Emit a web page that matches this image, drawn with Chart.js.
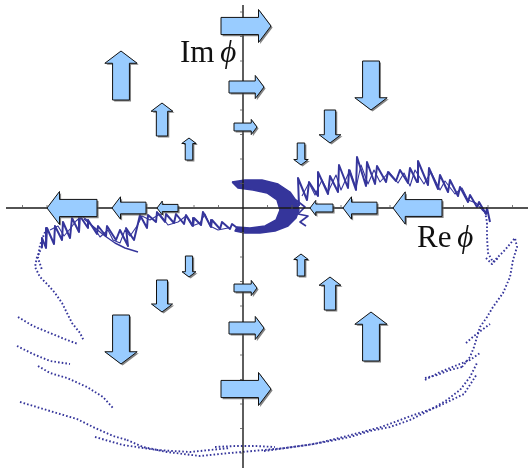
<!DOCTYPE html>
<html>
<head>
<meta charset="utf-8">
<script src="https://cdn.jsdelivr.net/npm/chart.js@4/dist/chart.umd.min.js"></script>
<style>
  html, body { margin: 0; padding: 0; background: #ffffff; }
  #wrap { width: 529px; height: 468px; }
</style>
</head>
<body>
<div id="wrap"><canvas id="phase" width="529" height="468"></canvas></div>
<script>
// Flow field: arrow tails (Re, Im) and arrow vectors (dRe, dIm)
const fieldRe  = [-12.2, -8.1, -5.4, -2.2, -1.4, -0.9, 12.8, 8.7, 5.8, 19.9, 13.4, 9.0, -14.6, -9.7, -6.5, -5.4, -8.1, -12.2, -0.9, -1.4, -2.2, 5.8, 8.7, 12.8];
const fieldIm  = [10.8, 7.2, 4.8, 18.2, 12.1, 8.1, 14.7, 9.8, 6.5, 0, 0, 0, 0, 0, 0, -4.8, -7.2, -10.7, -8.0, -12.0, -18.1, -6.8, -10.2, -15.3];
const fieldDRe = [0, 0, 0, 5.0, 3.5, 2.3, 0, 0, 0, -4.9, -3.4, -2.3, -5.0, -3.4, -2.1, 0, 0, 0, 2.3, 3.5, 5.0, 0, 0, 0];
const fieldDIm = [4.9, 3.3, 2.2, 0, 0, 0, -4.9, -3.3, -2.2, 0, 0, 0, 0, 0, 0, -2.1, -3.2, -4.9, 0, 0, 0, 2.2, 3.3, 4.9];

// Axis extents and tick spacing
const reAxis = [-23.7, 28.5];
const imAxis = [-26.0, 20.3];
const tickStep = 2.45;

// Dense core of the orbit near the origin (closed outline)
const coreOrbit = [
  [-1.1, 2.6], [0.2, 2.8], [1.9, 2.8], [3.5, 2.4], [4.7, 1.6], [5.4, 0.6], [5.6, -0.2], [5.3, -1.0],
  [4.5, -1.8], [3.2, -2.3], [1.7, -2.5], [0.2, -2.5], [-0.8, -2.3],
  [-0.6, -1.9], [0.7, -2.0], [2.2, -1.8], [3.3, -1.2], [3.7, -0.2], [3.4, 0.8], [2.4, 1.5], [1.0, 1.8],
  [-0.5, 2.0], [-1.1, 2.6]
];
const coreStreakA = [[0.7, 2.4], [2.2, 2.4], [3.7, 1.8], [4.7, 0.8], [5.0, -0.2], [4.6, -1.2], [3.5, -1.9]];
const coreStreakB = [[4.2, 1.2], [4.5, 0.1], [4.2, -0.9]];
const coreFringe = [[5.3, 0.8], [6.2, 0.1], [5.5, -0.6], [6.5, -0.8], [5.7, -1.4], [6.3, -1.8]];

// Saw-tooth band above the positive real axis
const upperBandA = [
  [5.6, 0.2], [5.5, 3.0], [6.4, 0.8], [6.6, 2.6], [7.5, 1.2], [7.5, 3.6], [8.5, 1.4], [8.7, 3.2],
  [9.5, 1.6], [9.6, 4.3], [10.5, 2.0], [10.6, 3.8], [11.3, 1.8], [11.4, 5.1], [12.3, 2.2], [12.4, 4.6],
  [13.2, 2.4], [13.4, 4.2], [14.3, 2.6], [14.5, 3.6], [15.3, 2.7], [15.7, 3.8], [16.5, 2.5], [16.7, 4.0],
  [17.4, 2.6], [17.5, 4.7], [18.5, 2.3], [18.6, 4.0], [19.5, 1.9], [19.7, 3.3], [20.5, 1.6], [20.7, 2.8],
  [21.5, 1.2], [21.7, 2.1], [22.5, 0.6], [22.7, 1.3], [23.4, 0.1], [23.6, 0.6], [24.3, -0.6], [24.4, 0.0],
  [24.7, -1.4]
];
const upperBandB = [
  [5.9, 1.2], [6.6, 2.5], [7.2, 1.3], [7.9, 2.8], [8.5, 1.6], [9.3, 3.3], [9.8, 1.8], [10.7, 3.8],
  [11.3, 2.0], [11.8, 4.3], [12.5, 2.4], [13.1, 3.8], [13.7, 2.6], [14.6, 3.6], [15.5, 2.5], [16.1, 3.5],
  [16.7, 2.2], [17.2, 3.8], [18.1, 2.4], [18.8, 3.6], [19.7, 1.8], [20.2, 2.7], [21.2, 1.4], [21.9, 2.0],
  [22.5, 0.8], [23.3, 0.5], [24.1, -0.4]
];

// Saw-tooth band below the negative real axis
const lowerBandA = [
  [-0.3, -2.2], [-1.1, -1.6], [-1.3, -2.1], [-2.1, -1.4], [-2.3, -2.1], [-3.1, -1.2], [-3.2, -1.9],
  [-4.0, -0.4], [-4.2, -1.7], [-4.9, -1.0], [-5.0, -1.8], [-5.7, -0.7], [-5.9, -1.6], [-6.7, -0.6],
  [-6.9, -1.5], [-7.7, -0.6], [-7.8, -1.4], [-8.6, -0.4], [-8.7, -1.4], [-9.5, -0.7], [-9.6, -2.0],
  [-10.3, -0.7], [-10.9, -3.2], [-11.7, -2.0], [-11.5, -3.8], [-12.3, -2.2], [-12.7, -3.2], [-13.6, -1.8],
  [-13.7, -2.8], [-14.5, -1.8], [-14.6, -2.6], [-15.5, -1.2], [-15.5, -2.0], [-16.3, -0.8], [-16.4, -2.4],
  [-17.1, -1.0], [-17.3, -3.0], [-18.0, -1.4], [-18.1, -3.2], [-18.8, -1.8], [-18.9, -3.6], [-19.6, -2.0],
  [-19.7, -4.0], [-20.1, -3.0], [-20.1, -3.9]
];
const lowerBandB = [
  [-1.5, -2.0], [-2.5, -2.2], [-3.3, -1.8], [-3.8, -0.6], [-4.3, -1.5], [-5.1, -1.8], [-5.7, -0.8],
  [-6.5, -1.4], [-7.5, -1.7], [-8.3, -0.6], [-9.3, -1.2], [-10.1, -0.8], [-10.6, -1.8], [-11.3, -2.8],
  [-11.8, -2.2], [-12.3, -3.5], [-13.0, -3.2], [-13.5, -2.2], [-14.3, -2.9], [-14.8, -2.1], [-15.5, -1.3],
  [-16.1, -0.8], [-16.7, -1.3], [-17.3, -2.1], [-17.9, -2.8], [-18.5, -1.8], [-19.3, -2.2]
];
const lowerBandC = [[-15.9, -1.1], [-14.8, -2.0], [-13.8, -2.8], [-12.8, -3.5], [-11.8, -4.0], [-10.5, -4.4]];

// Sparse outer sweep of the orbit
const outerStrands = [
  [[-20.1, -3.9], [-20.6, -4.9], [-20.8, -5.9], [-20.3, -6.9], [-19.5, -7.7], [-18.8, -8.5], [-18.1, -9.5],
   [-17.6, -10.5], [-17.1, -11.5], [-16.3, -12.5], [-15.9, -13.3]],
  [[-19.8, -2.4], [-20.3, -3.7], [-20.5, -5.0], [-20.1, -6.2]],
  [[-22.5, -10.9], [-21.0, -11.8], [-19.3, -12.5], [-17.6, -13.2], [-16.5, -13.6]],
  [[-22.6, -13.8], [-21.0, -14.6], [-19.3, -15.3], [-17.3, -15.6]],
  [[-20.5, -15.8], [-19.3, -16.5], [-17.6, -17.0], [-15.6, -17.9], [-14.0, -18.9], [-13.0, -20.0]],
  [[-22.3, -19.4], [-20.3, -20.0], [-18.3, -20.6], [-16.6, -21.1], [-15.0, -21.9], [-13.0, -22.8], [-11.6, -23.2]],
  [[-11.6, -23.2], [-10.0, -23.9], [-7.6, -24.4], [-4.3, -24.8], [-1.3, -24.5], [2.1, -24.2], [4.2, -24.0],
   [6.4, -23.7], [8.7, -23.3], [10.7, -22.9], [12.7, -22.3], [14.7, -21.9], [16.7, -21.2], [18.7, -20.2],
   [20.4, -19.2], [21.7, -18.2], [22.7, -16.9], [23.4, -15.5]],
  [[-14.8, -22.9], [-12.0, -23.7], [-8.6, -24.2], [-5.3, -24.4], [-1.3, -24.0]],
  [[2.1, -24.3], [7.1, -23.6], [10.4, -22.8], [13.8, -21.9], [16.8, -20.8], [19.4, -19.9], [22.1, -18.6], [23.4, -16.6]],
  [[-2.8, -23.9], [-0.8, -23.8], [1.2, -23.8], [3.2, -23.9]],
  [[21.9, -15.9], [22.7, -14.9], [23.1, -13.9], [23.4, -12.9], [23.7, -11.9], [24.4, -10.9], [25.0, -9.9],
   [26.0, -8.5], [26.7, -6.9], [27.0, -5.2], [27.4, -3.9], [27.2, -3.0], [26.2, -4.2], [25.0, -5.4],
   [24.5, -4.5], [24.4, -2.9], [24.4, -1.4], [24.2, -0.4], [23.7, 0.1]],
  [[18.2, -17.0], [19.4, -16.7], [20.7, -16.2], [21.9, -15.9]],
  [[22.3, -13.5], [23.1, -12.8], [23.9, -12.2], [24.7, -11.6]],
  [[18.2, -17.2], [19.7, -16.4], [21.2, -15.8], [22.7, -15.2], [23.7, -14.5]],
  [[24.3, -5.0], [24.9, -5.6], [25.5, -5.0]]
];

// Axis label anchors (left end of the baseline)
const labelIm = [-6.3, 14.6];
const labelRe = [17.4, -3.9];

const ink = '#35359b';
const pts = arr => arr.map(([x, y]) => ({ x, y }));
const band = (arr, w) => ({ data: pts(arr), showLine: true, borderColor: ink, borderWidth: w });

const datasets = [
  { data: pts(coreOrbit), showLine: true, fill: 'shape', backgroundColor: ink, borderColor: ink, borderWidth: 1.5 },
  { data: pts(coreStreakA), showLine: true, borderColor: 'rgba(255,255,255,0.55)', borderWidth: 0.9 },
  { data: pts(coreStreakB), showLine: true, borderColor: 'rgba(255,255,255,0.55)', borderWidth: 0.9 },
  band(coreFringe, 1.6),
  band(upperBandA, 2.0),
  band(upperBandB, 1.1),
  band(lowerBandA, 2.0),
  band(lowerBandB, 1.1),
  band(lowerBandC, 1.4)
];
outerStrands.forEach(s => datasets.push({
  data: pts(s), showLine: true, borderColor: ink, borderWidth: 1.9, borderDash: [1.6, 2.1]
}));
datasets.forEach(d => {
  d.pointRadius = 0;
  d.tension = 0;
  d.borderJoinStyle = 'round';
  if (d.fill === undefined) d.fill = false;
});

// Axes, flow arrows and axis labels drawn on top of the orbit
const phasePlane = {
  id: 'phasePlane',
  afterDatasetsDraw(chart) {
    const { ctx, scales: { x, y } } = chart;
    const x0 = x.getPixelForValue(0), y0 = y.getPixelForValue(0);
    ctx.save();

    // axes
    ctx.strokeStyle = '#1b1b1b';
    ctx.lineWidth = 1.4;
    ctx.beginPath();
    ctx.moveTo(x.getPixelForValue(reAxis[0]), y0);
    ctx.lineTo(x.getPixelForValue(reAxis[1]), y0);
    ctx.moveTo(x0, y.getPixelForValue(imAxis[1]));
    ctx.lineTo(x0, y.getPixelForValue(imAxis[0]));
    ctx.stroke();

    // tick marks
    ctx.lineWidth = 0.8;
    ctx.strokeStyle = '#555';
    ctx.beginPath();
    for (let v = tickStep; v < reAxis[1]; v += tickStep) {
      for (const s of [1, -1]) {
        const val = s * v;
        if (val < reAxis[0] || val > reAxis[1]) continue;
        const px = x.getPixelForValue(val);
        ctx.moveTo(px, y0 - 3); ctx.lineTo(px, y0 + 1);
      }
    }
    for (let v = tickStep; v < -imAxis[0]; v += tickStep) {
      for (const s of [1, -1]) {
        const val = s * v;
        if (val < imAxis[0] || val > imAxis[1]) continue;
        const py = y.getPixelForValue(val);
        ctx.moveTo(x0 - 3, py); ctx.lineTo(x0 + 1, py);
      }
    }
    ctx.stroke();

    // flow arrows
    for (let i = 0; i < fieldRe.length; i++) {
      const tx = x.getPixelForValue(fieldRe[i]);
      const ty = y.getPixelForValue(fieldIm[i]);
      const hx = x.getPixelForValue(fieldRe[i] + fieldDRe[i]);
      const hy = y.getPixelForValue(fieldIm[i] + fieldDIm[i]);
      const L = Math.hypot(hx - tx, hy - ty);
      const ux = (hx - tx) / L, uy = (hy - ty) / L;
      const nx = -uy, ny = ux;
      const headW = 0.66 * L, shaftW = 0.52 * headW, headL = 0.25 * L;
      const bx = hx - ux * headL, by = hy - uy * headL;
      const poly = [
        [tx + nx * shaftW / 2, ty + ny * shaftW / 2],
        [bx + nx * shaftW / 2, by + ny * shaftW / 2],
        [bx + nx * headW / 2, by + ny * headW / 2],
        [hx, hy],
        [bx - nx * headW / 2, by - ny * headW / 2],
        [bx - nx * shaftW / 2, by - ny * shaftW / 2],
        [tx - nx * shaftW / 2, ty - ny * shaftW / 2]
      ];
      ctx.beginPath();
      poly.forEach(([px, py], k) => k ? ctx.lineTo(px, py) : ctx.moveTo(px, py));
      ctx.closePath();
      ctx.shadowColor = 'rgba(90,90,90,0.75)';
      ctx.shadowOffsetX = 1.6;
      ctx.shadowOffsetY = 1.6;
      ctx.shadowBlur = 0;
      ctx.fillStyle = '#99ccff';
      ctx.fill();
      ctx.shadowColor = 'transparent';
      ctx.lineWidth = 1;
      ctx.strokeStyle = '#111';
      ctx.stroke();
    }

    // axis labels
    ctx.fillStyle = '#111';
    ctx.textBaseline = 'alphabetic';
    const drawLabel = (pos, word) => {
      const px = x.getPixelForValue(pos[0]), py = y.getPixelForValue(pos[1]);
      ctx.font = '31px "Liberation Serif", "DejaVu Serif", serif';
      ctx.fillText(word, px, py);
      const w = ctx.measureText(word + ' ').width;
      ctx.font = 'italic 31px "Liberation Serif", "DejaVu Serif", serif';
      ctx.fillText('\u03D5', px + w - 2, py);
    };
    drawLabel(labelIm, 'Im');
    drawLabel(labelRe, 'Re');
    ctx.restore();
  }
};

new Chart(document.getElementById('phase'), {
  type: 'scatter',
  data: { datasets },
  options: {
    responsive: false,
    animation: false,
    layout: { padding: 0 },
    plugins: { legend: { display: false }, tooltip: { enabled: false } },
    scales: {
      x: { type: 'linear', min: -24.3, max: 28.6, display: false },
      y: { type: 'linear', min: -26.0, max: 20.8, display: false }
    }
  },
  plugins: [phasePlane]
});
</script>
</body>
</html>
